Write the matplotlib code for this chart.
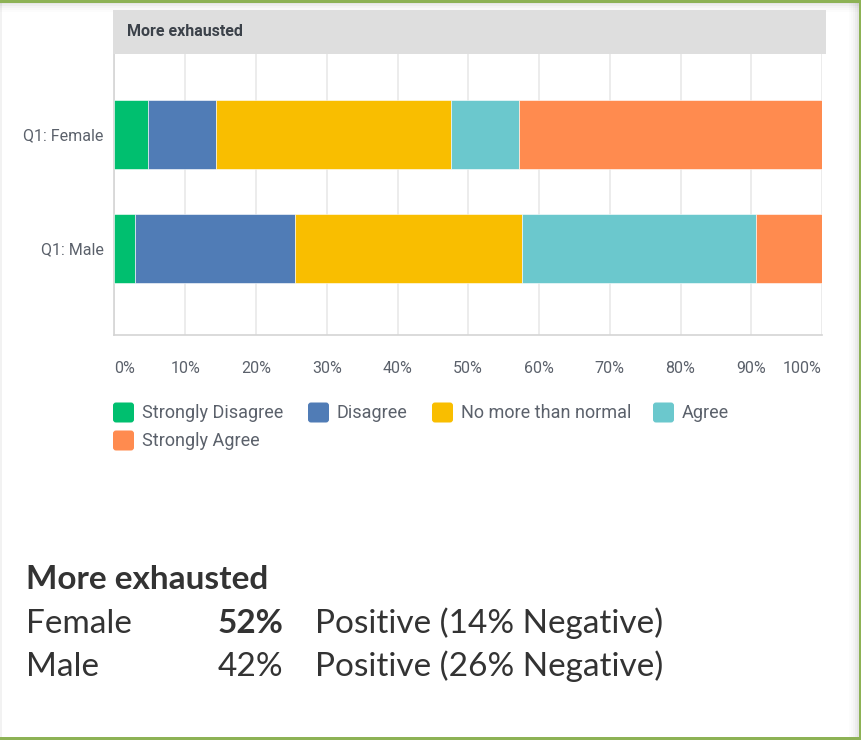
import numpy as np
import matplotlib
matplotlib.use('Agg')
import matplotlib.pyplot as plt
from matplotlib.patches import Rectangle, FancyBboxPatch
from matplotlib.transforms import IdentityTransform

# ---------------------------------------------------------------------------
# Data
# ---------------------------------------------------------------------------
groups = ['Q1: Female', 'Q1: Male']
answers = ['Strongly Disagree', 'Disagree', 'No more than normal', 'Agree', 'Strongly Agree']
colors = ['#00bf6f', '#507cb6', '#f9be00', '#6bc8cd', '#ff8b4f']
female = [4.76, 9.52, 33.33, 9.52, 42.86]
male = [2.9, 22.6, 32.1, 33.1, 9.3]
ticks = np.arange(0, 101, 10)
tick_labels = [f'{t}%' for t in ticks]

question = 'More exhausted'
summary_groups = ['Female', 'Male']
summary_pos = [52, 42]
summary_neg = [14, 26]

# ---------------------------------------------------------------------------
# Layout helpers (pixel coordinates, origin top-left)
# ---------------------------------------------------------------------------
W, H = 862, 740
DPI = 100
fig = plt.figure(figsize=(W / DPI, H / DPI), dpi=DPI)
fig.patch.set_facecolor('white')
PX = IdentityTransform()

def fx(x):
    return x / W

def fy(y):
    return 1 - y / H

def prect(x0, y0, x1, y1, **kw):
    fig.add_artist(Rectangle((x0, H - y1), x1 - x0, y1 - y0, transform=PX, **kw))

CHART_FONT = ['Roboto', 'DejaVu Sans']
TEXT_FONT = ['Lato', 'DejaVu Sans']
GREY = '#5b616b'

# slide frame: soft shadow + green border
for i, a in enumerate([0.10, 0.07, 0.045, 0.025, 0.012]):
    prect(0, 2 + 2 * i, W - 3, 4 + 2 * i, color='black', alpha=a, lw=0)
    prect(W - 5 - 2 * i, 0, W - 3 - 2 * i, H - 3, color='black', alpha=a, lw=0)
prect(0, 0, 2, H, color='black', alpha=0.05, lw=0)
prect(0, 0, W, 2.5, color='#8db255', lw=0)
prect(W - 3, 0, W, H, color='#8db255', lw=0)
prect(0, H - 3.5, W, H, color='#8db255', lw=0)

# question header band
prect(113, 10, 826, 54, color='#dedede', lw=0)
fig.text(fx(127), fy(31), question, fontsize=11.5, fontweight='bold', color='#3b4149',
         family=CHART_FONT, va='center', ha='left')

# ---------------------------------------------------------------------------
# Stacked bars
# ---------------------------------------------------------------------------
ax_l, ax_r, ax_t, ax_b = 114.5, 822, 54, 335
ax = fig.add_axes([fx(ax_l), fy(ax_b), (ax_r - ax_l) / W, (ax_b - ax_t) / H])

data = np.array([female, male])
left = np.zeros(len(groups))
ypos = np.arange(len(groups))
for k, ans in enumerate(answers):
    ax.barh(ypos, data[:, k], left=left, height=0.6, color=colors[k],
            edgecolor='white', linewidth=0.4, label=ans, zorder=3)
    left += data[:, k]

ax.set_xlim(0, 100)
ax.set_ylim(1.759, -0.706)
ax.set_xticks(ticks)
ax.set_xticklabels(tick_labels, fontsize=11.5, color=GREY, family=CHART_FONT)
tl = ax.get_xticklabels()
tl[0].set_ha('left')
tl[-1].set_ha('right')
ax.tick_params(axis='x', length=0, pad=19)
ax.set_yticks(ypos)
ax.set_yticklabels(groups, fontsize=11.5, color=GREY, family=CHART_FONT)
ax.tick_params(axis='y', length=0, pad=8)
ax.grid(axis='x', color='#e9e9e9', linewidth=1.2, zorder=0)
for s in ['top', 'right']:
    ax.spines[s].set_visible(False)
for s in ['left', 'bottom']:
    ax.spines[s].set_color('#d4d4d4')
    ax.spines[s].set_linewidth(1.2)

# ---------------------------------------------------------------------------
# Legend (two rows, drawn by hand to keep the wrapping)
# ---------------------------------------------------------------------------
legend_slots = [(113, 412.5), (308, 412.5), (432, 412.5), (653, 412.5), (113, 440.5)]
for (x0, yc), ans, c in zip(legend_slots, answers, colors):
    fig.add_artist(FancyBboxPatch((x0, H - yc - 10), 21, 20,
                                  boxstyle='round,pad=0,rounding_size=3',
                                  transform=PX, facecolor=c, edgecolor='none'))
    fig.text(fx(x0 + 29), fy(yc), ans, fontsize=13, color=GREY,
             family=CHART_FONT, va='center', ha='left')

# ---------------------------------------------------------------------------
# Summary text
# ---------------------------------------------------------------------------
TXT = '#333333'
fig.text(fx(26), fy(589), question, fontsize=24, fontweight='bold', color=TXT,
         family=TEXT_FONT, va='baseline', ha='left')
for i, (g, p, n) in enumerate(zip(summary_groups, summary_pos, summary_neg)):
    yb = 633 + 43 * i
    fig.text(fx(26), fy(yb), g, fontsize=24, color=TXT, family=TEXT_FONT,
             va='baseline', ha='left')
    fig.text(fx(283), fy(yb), f'{p}%', fontsize=24, color=TXT, family=TEXT_FONT,
             fontweight='bold' if i == 0 else 'normal', va='baseline', ha='right')
    fig.text(fx(315), fy(yb), f'Positive ({n}% Negative)', fontsize=24, color=TXT,
             family=TEXT_FONT, va='baseline', ha='left')

fig.savefig('out.png', dpi=DPI)
